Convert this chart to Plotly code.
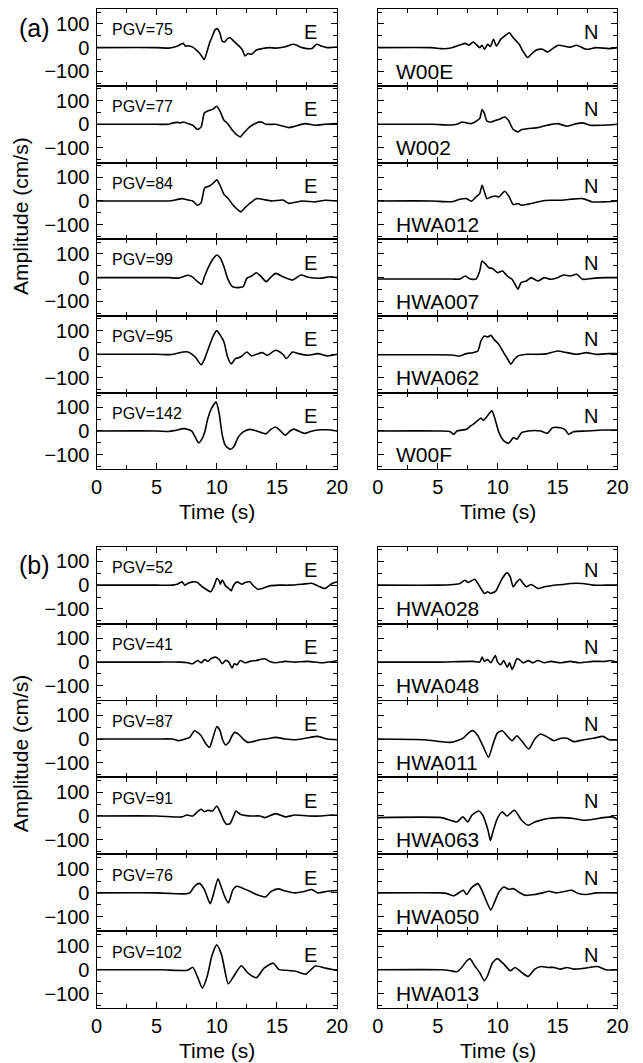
import plotly.graph_objects as go

# ------------------------------------------------------------------ data
stations_a = ["W00E", "W002", "HWA012", "HWA007", "HWA062", "W00F"]
pgv_a = [75, 77, 84, 99, 95, 142]
stations_b = ["HWA028", "HWA048", "HWA011", "HWA063", "HWA050", "HWA013"]
pgv_b = [52, 41, 87, 91, 76, 102]
x_ticks = [0, 5, 10, 15, 20]
y_ticks = [-100, 0, 100]

# (a) E components
a1_E_t = [0, 5.0, 6.0, 6.5, 6.8, 7.0, 7.2, 7.4, 7.6, 8.0, 8.4, 8.7, 8.95, 9.2, 9.4, 9.65, 9.85, 10.05, 10.25, 10.45, 10.65, 10.9, 11.1, 11.4, 11.7, 12.1, 12.35, 12.6, 12.9, 13.3, 13.8, 14.4, 14.9, 15.7, 16.4, 17.1, 17.9, 18.3, 18.7, 19.2, 20]
a1_E_v = [0, 0, -2, 3, 8, 14, 18, 6, 8, 2, -15, -32, -50, -15, 20, 50, 75, 80, 63, 28, 24, 38, 42, 28, 14, -7, -35, -25, -28, -10, -4, 0, -2, 4, 14, 0, -4, 14, 7, 0, 3]
a2_E_t = [0, 5.0, 6.0, 6.3, 6.7, 7.0, 7.2, 7.6, 8.0, 8.4, 8.7, 8.97, 9.25, 9.65, 10.0, 10.3, 10.6, 10.9, 11.3, 11.7, 11.95, 12.2, 12.75, 13.3, 13.7, 14.1, 14.9, 16.0, 16.5, 17.35, 18.2, 19.0, 20]
a2_E_v = [0, 0, 0, 5, 8, 6, 10, 3, -4, -22, -11, 48, 56, 63, 76, 52, 17, 3, -25, -46, -53, -39, -11, 6, 10, 0, 0, -14, -8, 3, -4, 0, 3]
a3_E_t = [0, 5.0, 6.0, 6.6, 7.1, 7.3, 7.6, 8.0, 8.4, 8.7, 9.0, 9.4, 9.8, 10.0, 10.3, 10.6, 10.9, 11.3, 11.7, 12.0, 12.35, 12.75, 13.3, 13.8, 14.6, 15.5, 16.0, 17.1, 18.2, 19.0, 20]
a3_E_v = [0, 0, 0, 5, 10, 8, 4, 0, -18, -7, 56, 63, 80, 89, 63, 28, 14, -14, -35, -46, -28, -10, 10, 7, 0, 4, -10, 0, -4, 3, 0]
a4_E_t = [0, 5.0, 6.0, 6.8, 7.35, 7.6, 8.0, 8.4, 8.75, 8.97, 9.4, 9.73, 10.0, 10.3, 10.6, 10.9, 11.3, 11.7, 12.2, 12.5, 12.9, 13.3, 13.7, 14.1, 14.5, 14.9, 15.5, 16.3, 17.0, 17.6, 18.7, 19.4, 20]
a4_E_v = [0, 0, 0, -2, 7, 10, 2, -17, -28, 4, 54, 82, 96, 82, 46, -3, -38, -42, -38, -3, 7, 21, 4, -17, 2, 18, 4, -10, 11, 2, -2, 4, 0]
a5_E_t = [0, 5.0, 6.3, 7.2, 7.6, 8.2, 8.7, 8.97, 9.4, 9.73, 10.0, 10.3, 10.6, 10.9, 11.2, 11.55, 11.8, 12.1, 12.5, 12.9, 13.3, 13.8, 14.2, 14.9, 15.5, 15.8, 16.3, 16.8, 17.6, 18.4, 19.2, 20]
a5_E_v = [0, 0, -1, 10, 10, -11, -44, -21, 38, 80, 100, 80, 52, -11, -40, -18, -15, -7, 10, -7, 0, 7, -4, 17, 0, -18, 10, 3, -4, 3, -7, 0]
a6_E_t = [0, 5.0, 6.0, 6.5, 7.3, 7.9, 8.2, 8.5, 8.8, 9.0, 9.24, 9.6, 9.95, 10.2, 10.46, 10.7, 11.1, 11.4, 11.8, 12.2, 12.75, 13.3, 14.1, 14.5, 14.9, 15.3, 15.7, 16.1, 16.4, 17.3, 17.8, 18.6, 19.2, 20]
a6_E_v = [0, 0, -2, 2, 10, 0, -25, -50, -30, -4, 50, 100, 122, 73, -18, -60, -77, -68, -25, -4, 7, 0, -12, 7, 17, 0, -18, 0, 8, -10, -2, 5, 5, 0]

# (a) N components
a1_N_t = [0, 4.5, 5.25, 5.8, 6.3, 6.6, 6.9, 7.3, 7.6, 7.95, 8.2, 8.5, 8.7, 8.9, 9.16, 9.4, 9.65, 9.9, 10.25, 10.65, 10.97, 11.3, 11.8, 12.1, 12.5, 12.8, 13.2, 13.75, 14.15, 14.7, 15.1, 16.05, 16.6, 17.4, 18.2, 19.3, 20]
a1_N_v = [0, 0, -4, -4, 2, 7, 12, 18, 10, 24, 14, 0, 10, -7, 14, 5, 35, 7, 35, 52, 63, 42, 14, -14, -42, -28, -11, -7, -18, 0, 10, 2, 10, -7, 0, -4, 0]
a2_N_t = [0, 4.5, 6.0, 6.6, 7.0, 7.4, 7.8, 8.2, 8.5, 8.7, 8.9, 9.1, 9.45, 9.85, 10.25, 10.6, 10.9, 11.3, 11.7, 12.0, 12.55, 13.35, 14.15, 15.0, 15.8, 16.6, 17.1, 17.7, 18.75, 20]
a2_N_v = [0, 0, -3, 0, 10, 6, 3, 13, 24, 62, 45, 14, 10, 17, 24, 31, 17, -22, -32, -22, -18, -14, -4, 3, -8, 3, 6, -4, -4, 0]
a3_N_t = [0, 4.5, 6.2, 6.85, 7.4, 7.8, 8.2, 8.5, 8.7, 8.9, 9.1, 9.45, 9.85, 10.1, 10.6, 10.97, 11.3, 11.7, 12.0, 12.8, 13.6, 14.4, 15.2, 16.05, 17.1, 17.9, 18.75, 20]
a3_N_v = [0, 0, -3, 7, 10, -1, 17, 31, 66, 38, 10, 17, 21, 17, 41, 17, -15, -11, -18, -11, -1, 3, 3, 7, 10, -4, -4, 0]
a4_N_t = [0, 4.5, 6.2, 6.85, 7.3, 7.7, 8.2, 8.5, 8.7, 8.97, 9.25, 9.57, 10.0, 10.4, 10.8, 11.2, 11.45, 11.7, 11.95, 12.4, 12.8, 13.35, 13.9, 14.4, 15.0, 15.5, 16.05, 16.6, 17.1, 17.9, 19.0, 20]
a4_N_v = [-6, -6, -6, -6, 7, -6, -6, 28, 70, 59, 42, 39, 21, 28, 7, -7, -28, -49, -21, -14, 0, -14, 0, -7, 0, 11, 7, 14, -7, -3, 0, 0]
a5_N_t = [0, 4.5, 6.2, 6.85, 7.4, 7.95, 8.35, 8.6, 8.9, 9.16, 9.43, 9.7, 10.1, 10.5, 10.85, 11.1, 11.4, 11.7, 12.55, 13.35, 14.15, 15.0, 15.8, 16.6, 17.4, 18.2, 19.3, 20]
a5_N_v = [-2, -2, -3, -7, 3, 7, 14, 56, 77, 73, 80, 63, 42, 7, -21, -42, -21, -7, 0, 0, 3, 14, 7, 0, 7, 0, 3, 3]
a6_N_t = [0, 5.0, 6.0, 6.33, 6.6, 7.4, 7.7, 8.0, 8.35, 8.62, 8.8, 9.03, 9.52, 9.79, 10.11, 10.52, 10.92, 11.33, 11.6, 12.0, 12.55, 13.1, 13.6, 14.16, 14.57, 15.25, 15.65, 15.92, 16.33, 17.41, 18.76, 20]
a6_N_v = [0, 0, -2, -14, 0, 7, 20, 30, 45, 55, 45, 56, 85, 49, -7, -42, -52, -28, -35, -7, 0, 2, 0, -10, 14, 14, 5, -14, -3, 0, 4, 4]

# (b) E components
b1_E_t = [0, 5.0, 6.3, 6.7, 7.1, 7.35, 7.6, 8.0, 8.4, 8.7, 9.1, 9.5, 9.8, 10.0, 10.2, 10.3, 10.46, 10.73, 11.0, 11.2, 11.4, 11.7, 12.1, 12.35, 12.75, 13.0, 13.4, 13.8, 14.4, 15.2, 16.0, 17.1, 17.9, 18.4, 19.0, 19.5, 19.8, 20]
b1_E_v = [0, 0, 0, 4, 14, 0, 8, 14, 11, -3, -17, -28, 0, 28, 18, 4, 22, -3, -14, -24, 0, 14, 4, 11, 14, 0, -17, -14, -3, 0, 0, 4, 8, -3, -14, 4, 11, 14]
b2_E_t = [0, 5.0, 7.0, 7.6, 8.0, 8.4, 8.7, 9.0, 9.25, 9.5, 9.9, 10.2, 10.46, 10.73, 11.0, 11.27, 11.46, 11.7, 11.95, 12.35, 12.75, 13.3, 14.0, 14.4, 14.9, 15.7, 16.5, 17.6, 18.7, 20]
b2_E_v = [0, 0, 0, -3, -7, 7, -3, 11, 3, 14, 21, 11, -7, 7, 0, -25, -7, -11, 7, -3, 3, 7, 14, 3, -3, 3, 0, 3, -3, 6]
b3_E_t = [0, 5.0, 6.3, 6.8, 7.35, 7.75, 8.15, 8.4, 8.7, 9.1, 9.4, 9.65, 10.0, 10.27, 10.46, 10.73, 11.0, 11.27, 11.5, 11.8, 12.2, 12.6, 13.0, 13.6, 14.1, 14.9, 15.7, 16.5, 17.35, 18.4, 19.2, 20]
b3_E_v = [0, 0, 0, -7, 0, 7, 35, 28, 14, -21, -35, 0, 52, 35, 0, -25, -14, 14, 28, 21, 0, -14, -11, -3, 0, 7, 0, -3, 3, 11, 0, -3]
b4_E_t = [0, 5.0, 7.1, 7.5, 8.0, 8.4, 8.7, 8.97, 9.25, 9.65, 10.0, 10.3, 10.6, 10.8, 11.1, 11.4, 11.6, 11.95, 12.75, 13.6, 14.0, 14.9, 15.7, 16.5, 17.6, 18.7, 19.5, 20]
b4_E_v = [0, 0, -4, 4, 0, 18, 28, 18, 24, 21, 42, 14, -21, -35, -32, 0, 21, 7, 0, 0, -7, 10, -4, 4, 0, 0, 4, 3]
b5_E_t = [0, 5.0, 6.0, 7.35, 7.75, 8.15, 8.55, 8.97, 9.45, 9.7, 10.1, 10.3, 10.65, 10.96, 11.35, 11.64, 12.1, 12.75, 13.3, 14.05, 14.5, 15.1, 15.7, 16.5, 17.35, 17.9, 18.4, 19.2, 20]
b5_E_v = [0, 0, -2, -4, 0, 28, 40, 14, -46, -10, 59, 35, -14, -42, 14, 28, 21, 7, -7, -17, 5, 17, 8, 0, 7, 14, 0, 7, 10]
b6_E_t = [0, 5.4, 7.58, 8.0, 8.4, 8.8, 9.2, 9.6, 10.0, 10.4, 10.96, 11.4, 12.04, 12.6, 13.3, 13.93, 14.7, 15.15, 15.7, 16.5, 17.4, 18.2, 19.05, 20]
b6_E_v = [0, 0, -2, 11, -30, -77, -28, 60, 105, 63, -59, -28, 17, -14, -33, 7, 28, 2, -2, -5, -18, 16, 7, -3]

# (b) N components
b1_N_t = [0, 5.0, 6.3, 6.85, 7.27, 7.54, 8.08, 8.35, 8.6, 8.9, 9.16, 9.43, 9.84, 10.1, 10.38, 10.78, 11.05, 11.3, 11.6, 11.86, 12.13, 12.4, 12.8, 13.35, 13.9, 14.7, 15.5, 16.05, 17.1, 17.95, 19.0, 20]
b1_N_v = [0, 0, 3, 7, 21, 11, 25, 7, -14, -35, -28, -35, -25, 0, 28, 53, 35, -7, 14, 25, 7, -7, 3, -14, -7, 0, 3, 7, 7, 0, 0, 0]
b2_N_t = [0, 5.0, 7.95, 8.5, 8.7, 8.9, 9.16, 9.43, 9.8, 10.0, 10.25, 10.5, 10.8, 11.0, 11.2, 11.4, 11.6, 11.8, 12.13, 12.55, 12.95, 13.35, 13.9, 14.43, 15.25, 16.05, 16.85, 17.95, 19.0, 19.4, 20]
b2_N_v = [0, 0, 3, 0, 21, 3, 11, -3, 28, 0, -11, 7, -21, -3, -31, -11, 14, 11, -3, 6, -3, 7, -3, 3, -3, 3, -3, 3, 3, 7, 0]
b3_N_t = [0, 3.9, 5.25, 6.05, 6.6, 7.1, 7.7, 7.95, 8.35, 8.76, 9.24, 9.57, 9.97, 10.38, 10.78, 11.2, 11.6, 12.0, 12.6, 13.1, 13.6, 14.2, 14.7, 15.3, 15.8, 16.35, 17.2, 18.0, 18.8, 19.3, 20]
b3_N_v = [0, -3, -11, -14, -7, 3, 31, 35, 14, -28, -77, -28, 25, 35, 14, -7, 14, -7, -42, 0, 21, 7, -7, 3, 3, -11, -3, 3, 11, -3, -3]
b4_N_t = [0, 5.3, 6.05, 6.6, 7.1, 7.5, 7.85, 8.4, 8.76, 9.2, 9.4, 9.6, 9.97, 10.38, 10.78, 11.4, 12.0, 12.55, 13.1, 13.6, 14.2, 15.3, 16.35, 17.2, 18.0, 18.8, 19.6, 20]
b4_N_v = [-7, -7, -18, -25, -4, -25, 3, 21, 3, -61, -103, -68, -11, 17, 0, 24, -18, -39, -25, -18, -11, -7, -11, -18, -14, -7, -4, -14]
b5_N_t = [0, 5.24, 5.78, 6.33, 6.87, 7.14, 7.41, 7.81, 8.35, 8.62, 9.03, 9.43, 9.7, 10.11, 10.52, 10.92, 11.33, 11.73, 12.27, 13.1, 13.76, 14.3, 14.84, 15.38, 16.19, 16.74, 17.41, 18.22, 20]
b5_N_v = [0, 0, -3, -12, 4, 11, -7, 21, 39, 18, -31, -72, -44, 4, 25, 15, 18, 4, -10, -7, 0, 7, 0, 4, 11, -3, -7, 0, 0]
b6_N_t = [0, 5.3, 6.05, 6.6, 7.0, 7.41, 7.68, 8.08, 8.49, 8.89, 9.16, 9.57, 9.97, 10.52, 11.06, 11.46, 12.0, 12.55, 13.1, 13.63, 14.17, 14.71, 15.25, 15.79, 16.33, 17.14, 18.35, 19.03, 20]
b6_N_v = [0, 0, -4, -8, 10, 37, 47, 17, -11, -46, -25, 30, 47, 24, -4, 10, -11, -28, 3, 14, 10, 10, 3, 10, 3, 6, 14, 0, 0]

E_a = [(a1_E_t, a1_E_v), (a2_E_t, a2_E_v), (a3_E_t, a3_E_v), (a4_E_t, a4_E_v), (a5_E_t, a5_E_v), (a6_E_t, a6_E_v)]
N_a = [(a1_N_t, a1_N_v), (a2_N_t, a2_N_v), (a3_N_t, a3_N_v), (a4_N_t, a4_N_v), (a5_N_t, a5_N_v), (a6_N_t, a6_N_v)]
E_b = [(b1_E_t, b1_E_v), (b2_E_t, b2_E_v), (b3_E_t, b3_E_v), (b4_E_t, b4_E_v), (b5_E_t, b5_E_v), (b6_E_t, b6_E_v)]
N_b = [(b1_N_t, b1_N_v), (b2_N_t, b2_N_v), (b3_N_t, b3_N_v), (b4_N_t, b4_N_v), (b5_N_t, b5_N_v), (b6_N_t, b6_N_v)]

# ------------------------------------------------------------------ layout
W, H = 643, 1063
FONT = "Liberation Sans, Arial, Helvetica, sans-serif"
COLS = [(93, 340), (382, 628)]
BLOCKS = [(9.3, 76.67), (546.7, 76.93)]

fig = go.Figure()
layout = dict(
    width=W, height=H, margin=dict(l=0, r=0, t=0, b=0),
    paper_bgcolor="white", plot_bgcolor="white", showlegend=False,
    font=dict(family=FONT, color="black"),
)
annotations = []


def py(y):
    return 1 - y / H


n = 0
for b, (top, ph) in enumerate(BLOCKS):
    groups = [(E_a, N_a), (E_b, N_b)][b]
    pgvs = [pgv_a, pgv_b][b]
    stas = [stations_a, stations_b][b]
    for c in range(2):
        data = groups[c]
        for i in range(6):
            n += 1
            xs = "" if n == 1 else str(n)
            y0 = top + i * ph
            y1 = y0 + ph
            bottom = (i == 5)
            t, v = data[i]
            fig.add_trace(go.Scatter(
                x=t, y=v, mode="lines", xaxis="x" + xs, yaxis="y" + xs,
                line=dict(color="black", width=1.6, shape="spline", smoothing=0.6),
                hoverinfo="skip"))
            layout["xaxis" + xs] = dict(
                domain=[COLS[c][0] / W, COLS[c][1] / W], anchor="y" + xs,
                range=[0, 20], tickvals=x_ticks, showgrid=False, zeroline=False,
                showline=True, linecolor="black", linewidth=1.1, mirror="allticks",
                ticks="inside", ticklen=6, tickwidth=1.2, tickcolor="black",
                minor=dict(dtick=2.5, tick0=0, ticks="inside", ticklen=4, tickwidth=1.2, tickcolor="black"),
                showticklabels=bottom, tickfont=dict(size=20, family=FONT, color="black"),
                ticklabelstandoff=0,
            )
            layout["yaxis" + xs] = dict(
                domain=[py(y1), py(y0)], anchor="x" + xs,
                range=[-162, 162], tickvals=y_ticks, showgrid=False, zeroline=False,
                showline=True, linecolor="black", linewidth=1.1, mirror="allticks",
                ticks="inside", ticklen=6, tickwidth=1.2, tickcolor="black",
                minor=dict(dtick=50, tick0=0, ticks="inside", ticklen=4, tickwidth=1.2, tickcolor="black"),
                showticklabels=(c == 0), tickfont=dict(size=20, family=FONT, color="black"),
                ticklabelstandoff=2,
            )
            comp = "E" if c == 0 else "N"
            annotations.append(dict(
                x=17.8, y=64, xref="x" + xs, yref="y" + xs, text=comp,
                showarrow=False, font=dict(size=20, family=FONT, color="black"),
                xanchor="center", yanchor="middle"))
            if c == 0:
                annotations.append(dict(
                    x=1.15, y=75, xref="x" + xs, yref="y" + xs, text="PGV=%d" % pgvs[i],
                    showarrow=False, font=dict(size=16, family=FONT, color="black"),
                    xanchor="left", yanchor="middle"))
            else:
                annotations.append(dict(
                    x=1.35, y=-100, xref="x" + xs, yref="y" + xs, text=stas[i],
                    showarrow=False, font=dict(size=21, family=FONT, color="black"),
                    xanchor="left", yanchor="middle"))
    # block titles
    bot = top + 6 * ph
    for c in range(2):
        annotations.append(dict(
            x=(COLS[c][0] + COLS[c][1]) / 2 / W, y=py(bot + 42), xref="paper", yref="paper",
            text="Time (s)", showarrow=False, font=dict(size=21, family=FONT, color="black"),
            xanchor="center", yanchor="middle"))
    annotations.append(dict(
        x=15 / W, y=py(top + 207), xref="paper", yref="paper", text="Amplitude (cm/s)",
        textangle=-90, showarrow=False, font=dict(size=21, family=FONT, color="black"),
        xanchor="center", yanchor="middle"))
    annotations.append(dict(
        x=29 / W, y=py(top + 18.5), xref="paper", yref="paper", text=["(a)", "(b)"][b],
        showarrow=False, font=dict(size=25, family=FONT, color="black"),
        xanchor="center", yanchor="middle"))

layout["annotations"] = annotations
fig.update_layout(**layout)
fig.write_html("out.html")
